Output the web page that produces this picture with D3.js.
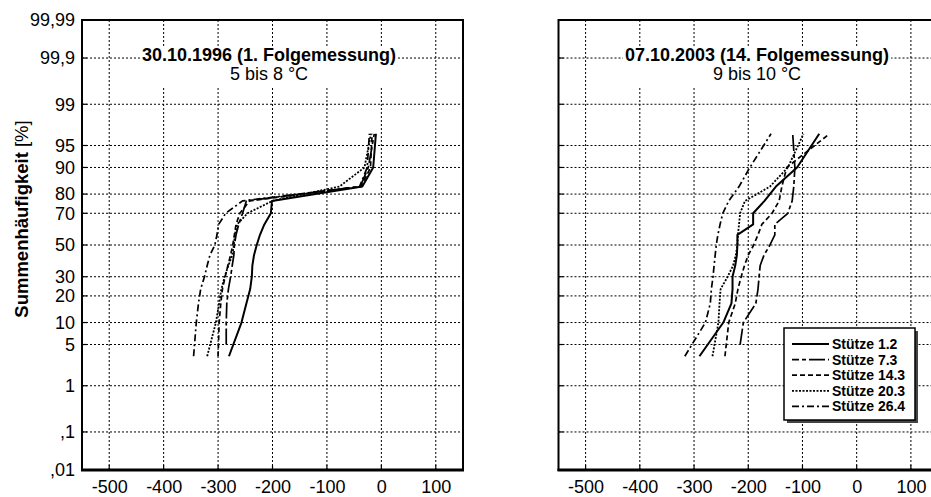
<!DOCTYPE html>
<html>
<head>
<meta charset="utf-8">
<script src="https://cdn.jsdelivr.net/npm/d3@7"></script>
<style>
  body { margin: 0; background: #fff; }
  svg { display: block; font-family: "Liberation Sans", Arial, sans-serif; }
</style>
</head>
<body>
<svg id="chart" width="931" height="497"></svg>
<script>
// probability axis (Summenhäufigkeit in %)
const yTicks = [0.01, 0.1, 1, 5, 10, 20, 30, 50, 70, 80, 90, 95, 99, 99.9, 99.99];
const yTickLabels = [',01', ',1', '1', '5', '10', '20', '30', '50', '70', '80', '90', '95', '99', '99,9', '99,99'];
const xTicks = [-500, -400, -300, -200, -100, 0, 100];

const seriesNames = ['Stütze 1.2', 'Stütze 7.3', 'Stütze 14.3', 'Stütze 20.3', 'Stütze 26.4'];

// plotting positions (%), same for every curve; 7.3 starts lower down
const pct = [3.3, 10, 16.7, 23.3, 30, 36.7, 43.3, 50, 56.7, 63.3, 70, 76.7, 83.3, 90, 96.7];
const pct73 = [5, 10, 16.7, 23.3, 30, 36.7, 43.3, 50, 56.7, 63.3, 70, 76.7, 83.3, 90, 96.7];

// 30.10.1996 (1. Folgemessung)
const s12_1996 = [-280, -257, -248, -241, -238, -237, -234, -229, -223, -215, -203, -201, -35, -15, -10];
const s73_1996 = [-285, -285, -284, -281, -277, -274, -271, -270, -267, -262, -255, -248, -39, -24, -13];
const s143_1996 = [-300, -298, -295, -292, -287, -282, -277, -273, -270, -267, -260, -242, -37, -20, -17];
const s203_1996 = [-320, -304, -298, -294, -288, -281, -274, -271, -269, -265, -246, -200, -77, -31, -19];
const s264_1996 = [-345, -340, -336, -332, -325, -320, -315, -306, -302, -299, -286, -255, -40, -26, -22];

// 07.10.2003 (14. Folgemessung)
const s12_2003 = [-290, -246, -231, -229, -229, -224, -221, -220, -220, -191, -191, -170, -149, -110, -69];
const s73_2003 = [-215, -209, -186, -182, -180, -178, -171, -160, -151, -151, -127, -119, -116, -114, -118];
const s143_2003 = [-243, -236, -224, -219, -213, -207, -200, -190, -182, -175, -156, -143, -138, -129, -50];
const s203_2003 = [-266, -255, -253, -251, -238, -228, -223, -220, -219, -217, -215, -206, -160, -127, -98];
const s264_2003 = [-317, -279, -270, -268, -265, -263, -261, -259, -256, -252, -247, -236, -217, -197, -158];

const panels = [
  { title: '30.10.1996 (1. Folgemessung)', sub: '5 bis 8 °C', x0: 82, x1: 463, titleX: 269, yLabels: true,
    series: [s12_1996, s73_1996, s143_1996, s203_1996, s264_1996], legend: false },
  { title: '07.10.2003 (14. Folgemessung)', sub: '9 bis 10 °C', x0: 558.5, x1: 938, titleX: 757, yLabels: false,
    series: [s12_2003, s73_2003, s143_2003, s203_2003, s264_2003], legend: true }
];

const lineStyles = [
  { dash: null, width: 2 },
  { dash: '16,3,4,3', width: 1.7 },
  { dash: '5,3', width: 1.7 },
  { dash: '2,1.5', width: 1.8 },
  { dash: '7,3,2,3', width: 1.7 }
];

// inverse normal CDF (Acklam)
function probit(p) {
  const a = [-3.969683028665376e+01, 2.209460984245205e+02, -2.759285104469687e+02, 1.383577518672690e+02, -3.066479806614716e+01, 2.506628277459239e+00];
  const b = [-5.447609879822406e+01, 1.615858368580409e+02, -1.556989798598866e+02, 6.680131188771972e+01, -1.328068155288572e+01];
  const c = [-7.784894002430293e-03, -3.223964580411365e-01, -2.400758277161838e+00, -2.549732539343734e+00, 4.374664141464968e+00, 2.938163982698783e+00];
  const d = [7.784695709041462e-03, 3.224671290700398e-01, 2.445134137142996e+00, 3.754408661907416e+00];
  const pl = 0.02425;
  let q, r;
  if (p < pl) {
    q = Math.sqrt(-2 * Math.log(p));
    return (((((c[0]*q+c[1])*q+c[2])*q+c[3])*q+c[4])*q+c[5]) / ((((d[0]*q+d[1])*q+d[2])*q+d[3])*q+1);
  }
  if (p > 1 - pl) {
    q = Math.sqrt(-2 * Math.log(1 - p));
    return -(((((c[0]*q+c[1])*q+c[2])*q+c[3])*q+c[4])*q+c[5]) / ((((d[0]*q+d[1])*q+d[2])*q+d[3])*q+1);
  }
  q = p - 0.5; r = q * q;
  return (((((a[0]*r+a[1])*r+a[2])*r+a[3])*r+a[4])*r+a[5])*q / (((((b[0]*r+b[1])*r+b[2])*r+b[3])*r+b[4])*r+1);
}

const svg = d3.select('#chart');
const yTop = 20, yBottom = 470;

const y = d3.scaleLinear()
  .domain([probit(0.0001), probit(0.9999)])
  .range([yBottom, yTop]);
const yp = p => y(probit(p / 100));

// y axis title
svg.append('text')
  .attr('transform', `translate(28,219) rotate(-90)`)
  .attr('text-anchor', 'middle')
  .style('font-size', '18.5px')
  .style('font-weight', 'bold')
  .text('Summenhäufigkeit')
  .append('tspan').style('font-weight', 'normal').text(' [%]');

panels.forEach(panel => {
  const x = d3.scaleLinear().domain([-550, 150]).range([panel.x0, panel.x1]);
  const g = svg.append('g');

  // grid
  g.selectAll('line.vgrid').data(xTicks).enter().append('line')
    .attr('x1', d => x(d)).attr('x2', d => x(d))
    .attr('y1', yTop).attr('y2', yBottom)
    .attr('stroke', '#000').attr('stroke-width', 1).attr('stroke-dasharray', '2,2');
  g.selectAll('line.hgrid').data(yTicks.slice(1, -1)).enter().append('line')
    .attr('x1', panel.x0).attr('x2', panel.x1)
    .attr('y1', d => yp(d)).attr('y2', d => yp(d))
    .attr('stroke', '#000').attr('stroke-width', 1).attr('stroke-dasharray', '2,2');

  // inward ticks
  g.selectAll('line.xt').data(xTicks).enter().append('line')
    .attr('x1', d => x(d)).attr('x2', d => x(d))
    .attr('y1', yBottom).attr('y2', yBottom - 5)
    .attr('stroke', '#000').attr('stroke-width', 1.2);
  g.selectAll('line.yt').data(yTicks.slice(1, -1)).enter().append('line')
    .attr('x1', panel.x0).attr('x2', panel.x0 + 5)
    .attr('y1', d => yp(d)).attr('y2', d => yp(d))
    .attr('stroke', '#000').attr('stroke-width', 1.2);

  // titles with white background
  const t1 = g.append('text').attr('x', panel.titleX).attr('y', 61)
    .attr('text-anchor', 'middle').style('font-size', '18px').style('font-weight', 'bold')
    .text(panel.title);
  const t2 = g.append('text').attr('x', panel.titleX).attr('y', 80)
    .attr('text-anchor', 'middle').style('font-size', '18px')
    .text(panel.sub);
  const b1 = t1.node().getBBox(), b2 = t2.node().getBBox();
  g.insert('rect', 'text')
    .attr('x', b1.x - 2).attr('y', b1.y + 2).attr('width', b1.width + 4).attr('height', b2.y + b2.height - b1.y)
    .attr('fill', '#fff');

  // curves
  const line = d3.line().x(d => x(d[0])).y(d => yp(d[1]));
  panel.series.forEach((vals, i) => {
    const ps = i === 1 ? pct73 : pct;
    const pts = vals.map((v, k) => [v, ps[k]]);
    g.append('path')
      .attr('d', line(pts))
      .attr('fill', 'none')
      .attr('stroke', '#000')
      .attr('stroke-width', lineStyles[i].width)
      .attr('stroke-dasharray', lineStyles[i].dash)
      .attr('stroke-linejoin', 'round');
  });

  // frame
  g.append('rect')
    .attr('x', panel.x0).attr('y', yTop)
    .attr('width', panel.x1 - panel.x0).attr('height', yBottom - yTop)
    .attr('fill', 'none').attr('stroke', '#000').attr('stroke-width', 2);
  g.append('line').attr('x1', panel.x0 - 1).attr('x2', panel.x1 + 1)
    .attr('y1', yBottom).attr('y2', yBottom).attr('stroke', '#000').attr('stroke-width', 3);

  // x axis labels
  const xAxis = d3.axisBottom(x).tickValues(xTicks).tickSize(0).tickPadding(10).tickFormat(d => String(d));
  const xa = g.append('g').attr('transform', `translate(0,${yBottom})`).call(xAxis);
  xa.select('.domain').remove();
  xa.selectAll('text').style('font-size', '18px').style('font-family', '"Liberation Sans", Arial, sans-serif').attr('fill', '#000');

  if (panel.yLabels) {
    const yAxis = d3.axisLeft(y).tickValues(yTicks.map(p => probit(p / 100))).tickSize(0).tickPadding(7)
      .tickFormat((d, i) => yTickLabels[i]);
    const ya = g.append('g').attr('transform', `translate(${panel.x0},0)`).call(yAxis);
    ya.select('.domain').remove();
    ya.selectAll('text').style('font-size', '18px').style('font-family', '"Liberation Sans", Arial, sans-serif').attr('fill', '#000');
  }

  if (panel.legend) {
    const lx = 784, ly = 328, lw = 131, lh = 92;
    g.append('rect').attr('x', lx + 3).attr('y', ly + 3).attr('width', lw).attr('height', lh).attr('fill', '#444');
    g.append('rect').attr('x', lx).attr('y', ly).attr('width', lw).attr('height', lh)
      .attr('fill', '#fff').attr('stroke', '#000').attr('stroke-width', 1.5);
    seriesNames.forEach((name, i) => {
      const ry = 344 + i * 15.6;
      g.append('line').attr('x1', 792).attr('x2', 829).attr('y1', ry).attr('y2', ry)
        .attr('stroke', '#000').attr('stroke-width', lineStyles[i].width)
        .attr('stroke-dasharray', lineStyles[i].dash)
        .attr('stroke-dashoffset', i === 1 ? 9 : 0);
      g.append('text').attr('x', 832).attr('y', ry + 5)
        .style('font-size', '14px').style('font-weight', 'bold').text(name);
    });
  }
});
</script>
</body>
</html>
